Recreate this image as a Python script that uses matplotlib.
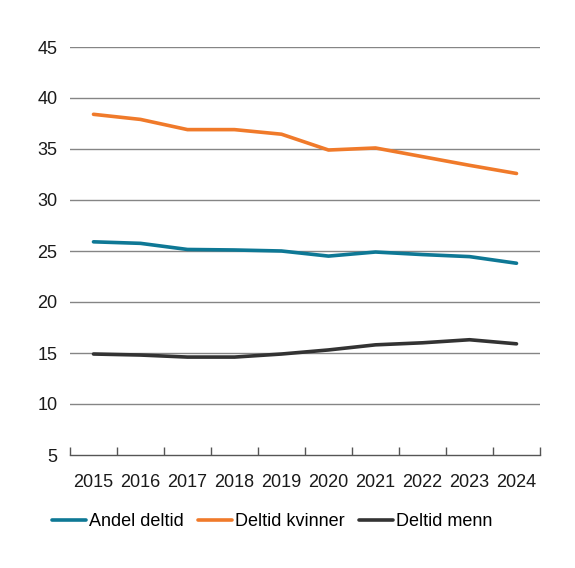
import numpy as np
import matplotlib.pyplot as plt

plt.rcParams['font.family'] = ['Liberation Sans', 'DejaVu Sans']

# data
years = ['2015', '2016', '2017', '2018', '2019', '2020', '2021', '2022', '2023', '2024']
andel_deltid = [25.9, 25.75, 25.15, 25.1, 25.0, 24.5, 24.9, 24.65, 24.45, 23.8]
deltid_kvinner = [38.4, 37.9, 36.9, 36.9, 36.45, 34.9, 35.1, 34.25, 33.4, 32.6]
deltid_menn = [14.9, 14.8, 14.6, 14.6, 14.9, 15.3, 15.8, 16.0, 16.3, 15.9]

fig = plt.figure(figsize=(5.75, 5.68), dpi=100)
ax = fig.add_axes([70/575, 113/568, 470/575, 408/568])

x = np.arange(len(years))
ax.plot(x, andel_deltid, color='#0e7895', lw=2.6, label='Andel deltid', solid_capstyle='round')
ax.plot(x, deltid_kvinner, color='#f07a2a', lw=2.6, label='Deltid kvinner', solid_capstyle='round')
ax.plot(x, deltid_menn, color='#333333', lw=2.6, label='Deltid menn', solid_capstyle='round')

ax.set_xlim(-0.5, len(years) - 0.5)
ax.set_ylim(5, 45)
ax.set_yticks(range(5, 50, 5))
for v in range(10, 50, 5):
    ax.axhline(v, color='#858585', lw=1, zorder=0)

ax.set_xticks(x)
ax.set_xticklabels(years)
ax.set_xticks(np.arange(-0.5, len(years)), minor=True)
ax.tick_params(axis='x', which='major', length=0, pad=14, labelsize=13, colors='#1a1a1a')
ax.tick_params(axis='x', which='minor', direction='in', length=6, width=1, color='#555555')
ax.tick_params(axis='y', length=0, pad=9, labelsize=13, colors='#1a1a1a')

for s in ['left', 'right', 'top']:
    ax.spines[s].set_visible(False)
ax.spines['bottom'].set_color('#555555')
ax.spines['bottom'].set_linewidth(1)

fig.legend(loc='center', bbox_to_anchor=(272/575, 46/568), ncol=3, frameon=False,
           fontsize=13, handlelength=1.9, handletextpad=0.15, columnspacing=0.8)

fig.savefig('out.png', dpi=100)
